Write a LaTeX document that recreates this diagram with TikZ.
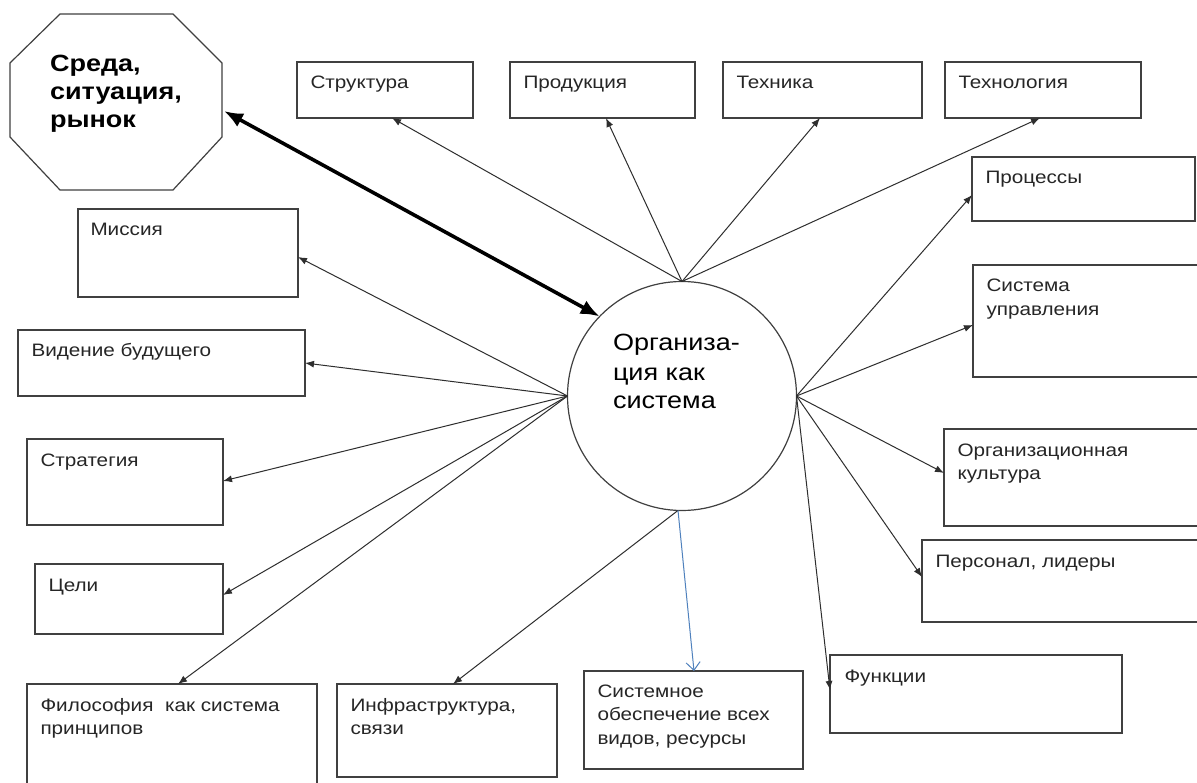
\documentclass[tikz,border=0pt]{standalone}
\usepackage{fontspec}
\setmainfont{Liberation Sans}[FakeStretch=1.15]
\usetikzlibrary{arrows.meta,calc}
\definecolor{edge}{gray}{0.25}
\definecolor{txt}{gray}{0.15}
\definecolor{blueline}{RGB}{79,129,189}
\tikzset{
  box/.style={draw=edge, line width=1.2pt, rectangle, inner sep=0pt, outer sep=0pt, anchor=north west, fill=white},
  lbl/.style={anchor=north west, inner sep=0pt, outer sep=0pt, align=left, text=txt, font=\fontsize{18}{23.5}\selectfont},
  conn/.style={draw=black!82, line width=1pt, -{Latex[length=9pt,width=7pt]}},
  bigconn/.style={draw=black, line width=3.6pt, {Latex[length=19pt,width=15pt]}-{Latex[length=19pt,width=15pt]}},
  blueconn/.style={draw=blueline, line width=1pt, -{Straight Barb[length=8pt,width=14pt]}},
}
\newcommand{\st}{\rule{0pt}{18pt}}
\begin{document}
\begin{tikzpicture}[x=1pt,y=-1pt]
\useasboundingbox (0,0) rectangle (1197,783);
\fill[white] (0,0) rectangle (1197,783);
\clip (0,0) rectangle (1197,783);

% octagon
\draw[draw=edge, line width=1.2pt] (60,14) -- (173,14) -- (222,63) -- (222,137) -- (173,190) -- (60,190) -- (10,137) -- (10,63) -- cycle;
\node[lbl, font=\fontsize{23.5}{28}\selectfont\bfseries, text=black] (env) at (50,48) {\rule{0pt}{24pt}Среда,\\ситуация,\\рынок};
\coordinate (envR) at (224,111);

% central circle
\node[circle, draw=edge, line width=1.2pt, minimum size=229pt, inner sep=0pt, outer sep=0pt] (org) at (682,396) {};
\node[lbl, font=\fontsize{23.5}{29}\selectfont, text=black] (orgt) at (613,327) {\rule{0pt}{24pt}Организа-\\ция как\\система};

% boxes
\node[box, minimum width=176pt, minimum height=56pt] (str) at (297,62) {};
\node[box, minimum width=185pt, minimum height=56pt] (prod) at (510,62) {};
\node[box, minimum width=199pt, minimum height=56pt] (tech) at (723,62) {};
\node[box, minimum width=196pt, minimum height=56pt] (tcl) at (945,62) {};
\node[box, minimum width=223pt, minimum height=64pt] (proc) at (972,157) {};
\node[box, minimum width=240pt, minimum height=112pt] (sys) at (973,265) {};
\node[box, minimum width=270pt, minimum height=97pt] (cult) at (944,429) {};
\node[box, minimum width=290pt, minimum height=82pt] (pers) at (922,540) {};
\node[box, minimum width=292pt, minimum height=78pt] (func) at (830,655) {};
\node[box, minimum width=219pt, minimum height=98pt] (sysob) at (584,671) {};
\node[box, minimum width=220pt, minimum height=93pt] (infra) at (337,684) {};
\node[box, minimum width=290pt, minimum height=130pt] (phil) at (27,684) {};
\node[box, minimum width=188pt, minimum height=70pt] (goals) at (35,564) {};
\node[box, minimum width=196pt, minimum height=86pt] (strat) at (27,439) {};
\node[box, minimum width=287pt, minimum height=66pt] (vision) at (18,330) {};
\node[box, minimum width=220pt, minimum height=88pt] (mission) at (78,209) {};

% labels
\node[lbl] (t-str) at ($(str.north west)+(13.5,9)$) {\st Структура};
\node[lbl] (t-prod) at ($(prod.north west)+(13.5,9)$) {\st Продукция};
\node[lbl] (t-tech) at ($(tech.north west)+(13.5,9)$) {\st Техника};
\node[lbl] (t-tcl) at ($(tcl.north west)+(13.5,9)$) {\st Технология};
\node[lbl] (t-proc) at ($(proc.north west)+(13.5,9)$) {\st Процессы};
\node[lbl] (t-sys) at ($(sys.north west)+(13.5,9)$) {\st Система\\управления};
\node[lbl] (t-cult) at ($(cult.north west)+(13.5,9)$) {\st Организационная\\культура};
\node[lbl] (t-pers) at ($(pers.north west)+(13.5,9)$) {\st Персонал, лидеры};
\node[lbl] (t-func) at ($(func.north west)+(14.5,9)$) {\st Функции};
\node[lbl] (t-sysob) at ($(sysob.north west)+(13.5,8)$) {\st Системное\\обеспечение всех\\видов, ресурсы};
\node[lbl] (t-infra) at ($(infra.north west)+(13.5,9)$) {\st Инфраструктура,\\связи};
\node[lbl] (t-phil) at ($(phil.north west)+(13.5,9)$) {\st Философия\ \ как система\\принципов};
\node[lbl] (t-goals) at ($(goals.north west)+(13.5,9)$) {\st Цели};
\node[lbl] (t-strat) at ($(strat.north west)+(13.5,9)$) {\st Стратегия};
\node[lbl] (t-vision) at ($(vision.north west)+(13.5,9)$) {\st Видение будущего};
\node[lbl] (t-mission) at ($(mission.north west)+(12.5,9)$) {\st Миссия};

% connectors
\draw[bigconn] (envR) -- (org.136);

\draw[conn] (org.north) -- ([xshift=95pt]str.south west);
\draw[conn] (org.north) -- ([xshift=96pt]prod.south west);
\draw[conn] (org.north) -- ([xshift=97pt]tech.south west);
\draw[conn] (org.north) -- ([xshift=95pt]tcl.south west);

\draw[conn] (org.east) -- ([yshift=-38pt]proc.north west);
\draw[conn] (org.east) -- ([yshift=-60pt]sys.north west);
\draw[conn] (org.east) -- ([yshift=-44pt]cult.north west);
\draw[conn] (org.east) -- ([yshift=-37pt]pers.north west);
\draw[conn] (org.east) -- ([yshift=-35pt]func.north west);

\draw[conn] (org.west) -- ([yshift=-48pt]mission.north east);
\draw[conn] (org.west) -- ([yshift=-33pt]vision.north east);
\draw[conn] (org.west) -- ([yshift=-42pt]strat.north east);
\draw[conn] (org.west) -- ([yshift=-31pt]goals.north east);
\draw[conn] (org.west) -- ([xshift=151pt]phil.north west);

\draw[conn] (org.268) -- ([xshift=116pt]infra.north west);
\draw[blueconn] (org.268) -- ([xshift=110pt]sysob.north west);
\end{tikzpicture}
\end{document}
